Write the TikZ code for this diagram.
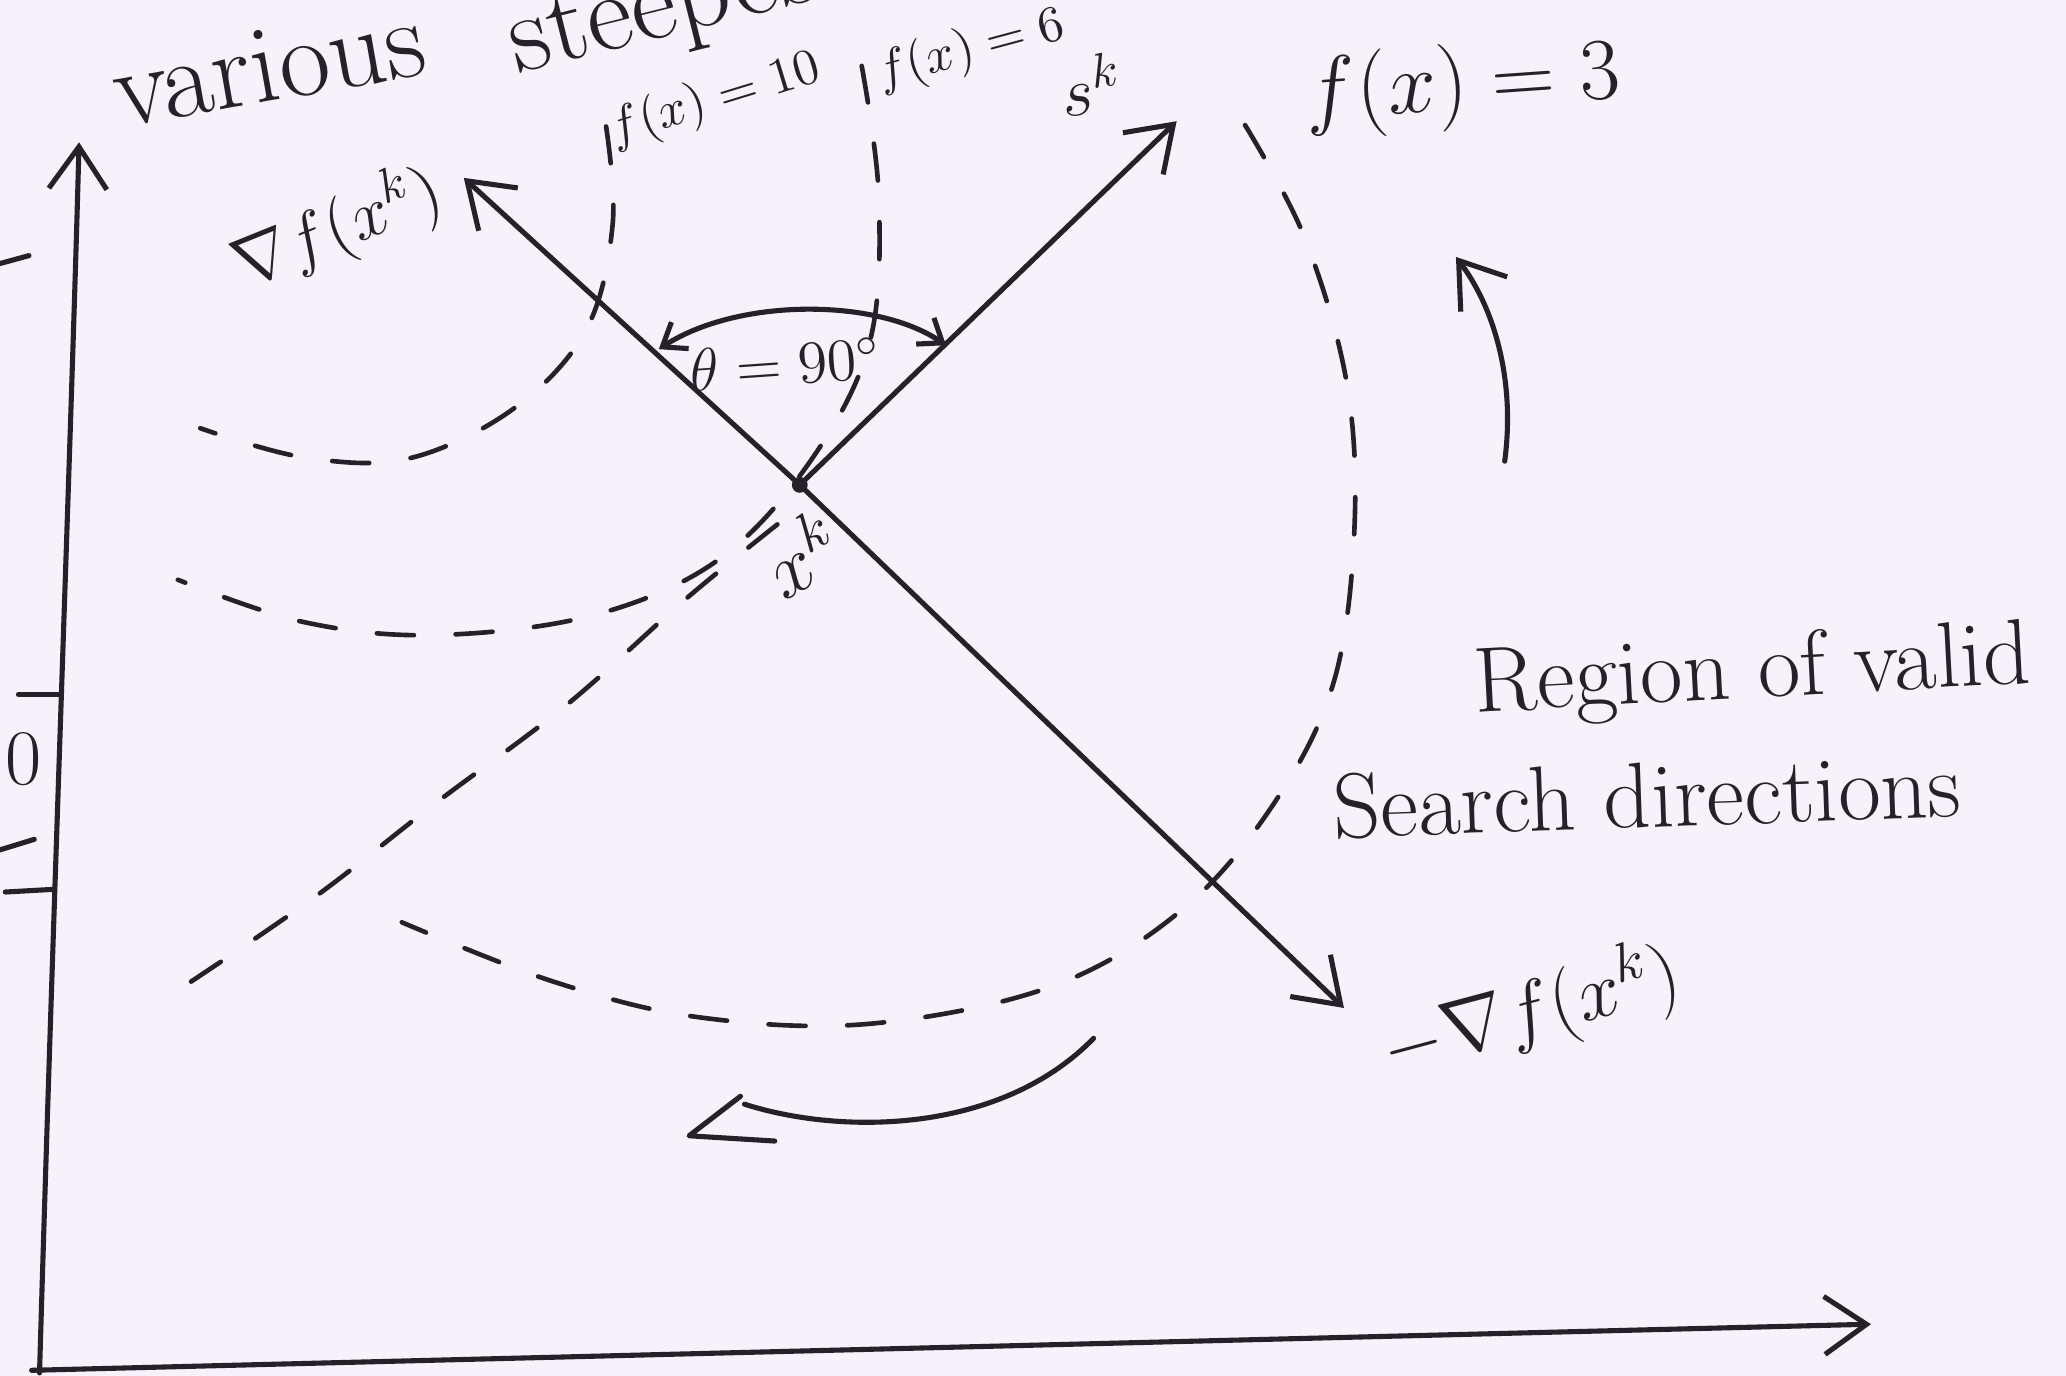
\RequirePackage{fix-cm}
\documentclass[tikz,border=0pt]{standalone}
\usetikzlibrary{arrows.meta}
\definecolor{paper}{RGB}{247,241,249}
\definecolor{ink}{RGB}{36,34,40}
\begin{document}
\begin{tikzpicture}[x=0.1mm,y=-0.1mm,
  inkline/.style={draw=ink,line width=1.1pt,line cap=round,line join=round},
  contour/.style={draw=ink,line width=1.0pt,line cap=round,dash pattern=on 8pt off 9pt},
  bigtip/.style={-{Straight Barb[length=3.2mm,width=4.4mm]}},
  smalltips/.style={{Straight Barb[length=1.6mm,width=2.4mm]}-{Straight Barb[length=1.6mm,width=2.4mm]}},
  lbl/.style={text=ink,inner sep=0pt}]
\fill[paper] (0,0) rectangle (1568,1044);
\useasboundingbox (0,0) rectangle (1568,1044);

% key points
\coordinate (xk) at (607,368);
\coordinate (gtop) at (352,135);
\coordinate (gbot) at (1020,765);
\coordinate (stip) at (893,92);
\coordinate (ybot) at (30,1042);
\coordinate (ytop) at (60,108);
\coordinate (xbot) at (24,1040);
\coordinate (xtip) at (1420,1005);

% axes
\draw[inkline,bigtip] (ybot) .. controls (40,700) and (55,300) .. (ytop);
\draw[inkline,bigtip] (xbot) -- (xtip);
\coordinate (t1a) at (14,527); \coordinate (t1b) at (45,527);
\coordinate (t2a) at (4,677);  \coordinate (t2b) at (40,675);
\draw[inkline] (t1a) -- (t1b);
\draw[inkline] (t2a) -- (t2b);
\coordinate (fr1a) at (0,645); \coordinate (fr1b) at (26,637);
\draw[inkline] (fr1a) -- (fr1b);
\coordinate (fr2a) at (0,200); \coordinate (fr2b) at (22,194);
\draw[inkline] (fr2a) -- (fr2b);
\node[lbl,font=\fontsize{17}{20}\selectfont] (zero) at (18,576) {0};

% gradient line and search direction
\draw[inkline,bigtip] (xk) -- (gtop);
\draw[inkline,bigtip] (xk) -- (gbot);
\draw[inkline,bigtip] (xk) -- (stip);
\fill[ink] (xk) circle[radius=6];

% angle arc
\coordinate (ang1) at (500,265);
\coordinate (ang2) at (718,262);
\draw[inkline,smalltips] (ang1) .. controls (560,226) and (665,226) .. (ang2);

% dashed contours
\draw[contour] plot[smooth,tension=0.6] coordinates {(460,96) (465,170) (445,250) (390,310) (310,348) (230,347) (152,325)};
\draw[contour] plot[smooth,tension=0.6] coordinates {(654,50) (667,150) (660,260) (615,350) (545,425) (450,467) (330,482) (230,472) (135,440)};
\draw[contour] plot[smooth,tension=0.6] coordinates {(590,398) (520,455) (430,535) (330,610) (240,680) (145,745)};
\draw[contour] plot[smooth,tension=0.6] coordinates {(945,95) (990,180) (1022,290) (1028,400) (1013,515) (970,605) (900,688) (800,748) (660,777) (530,772) (420,745) (305,700)};

% curved arrows
\coordinate (ra) at (1142,350);
\coordinate (rb) at (1105,195);
\draw[inkline,bigtip] (ra) .. controls (1150,290) and (1135,235) .. (rb);
\coordinate (ba) at (830,788);
\coordinate (bb) at (565,838);
\draw[inkline] (ba) .. controls (760,860) and (640,862) .. (bb);
\coordinate (bh1) at (562,832);
\coordinate (bh2) at (523,862);
\coordinate (bh3) at (588,866);
\draw[inkline] (bh1) -- (bh2) -- (bh3);

% labels
\node[lbl,font=\fontsize{13}{15}\selectfont,rotate=4] (theta) at (596,276) {$\theta=90^{\circ}$};
\node[lbl,font=\fontsize{17}{20}\selectfont,rotate=30] (xklbl) at (608,420) {$x^{k}$};
\node[lbl,font=\fontsize{15}{18}\selectfont,rotate=22] (gradlbl) at (256,174) {$\nabla f(x^{k})$};
\node[lbl,font=\fontsize{17}{20}\selectfont,rotate=15] (ngradlbl) at (1162,768) {$-\nabla f(x^{k})$};
\node[lbl,font=\fontsize{15}{18}\selectfont,rotate=8] (sklbl) at (828,64) {$s^{k}$};
\node[lbl,font=\fontsize{11}{13}\selectfont,rotate=17] (f10) at (543,76) {$f(x)=10$};
\node[lbl,font=\fontsize{11}{13}\selectfont,rotate=15] (f6) at (737,38) {$f(x)=6$};
\node[lbl,font=\fontsize{19}{22}\selectfont,rotate=4] (f3) at (1110,66) {$f(x) = 3$};
\node[lbl,font=\fontsize{24}{28}\selectfont,rotate=10] (various) at (204,50) {various};
\node[lbl,font=\fontsize{24}{28}\selectfont,rotate=14,anchor=base west] (steep) at (392,56) {steepest};
\node[lbl,font=\fontsize{20}{24}\selectfont,rotate=3] (region) at (1330,512) {Region of valid};
\node[lbl,font=\fontsize{20}{24}\selectfont,rotate=2] (search) at (1250,604) {Search directions};
\end{tikzpicture}
\end{document}
